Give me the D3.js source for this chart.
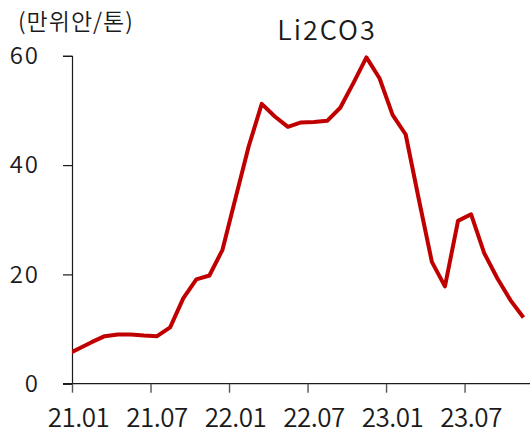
<!DOCTYPE html>
<html>
<head>
<meta charset="utf-8">
<script src="https://cdn.jsdelivr.net/npm/d3@7"></script>
<style>
  html, body { margin: 0; padding: 0; background: #fff; }
  svg { display: block; }
</style>
</head>
<body>
<svg id="chart" width="530" height="434"></svg>
<script>
// Li2CO3 price, monthly (만위안/톤). 20.12 sits left of the axis and is clipped.
const months = ['20.12',
  '21.01','21.02','21.03','21.04','21.05','21.06','21.07','21.08','21.09','21.10','21.11','21.12',
  '22.01','22.02','22.03','22.04','22.05','22.06','22.07','22.08','22.09','22.10','22.11','22.12',
  '23.01','23.02','23.03','23.04','23.05','23.06','23.07','23.08','23.09','23.10','23.11'];
const prices = [5.2,
  6.4, 7.6, 8.7, 9.0, 9.0, 8.8, 8.7, 10.3, 15.6, 19.1, 19.8, 24.5,
  34.0, 43.4, 51.2, 48.9, 47.0, 47.8, 47.9, 48.1, 50.5, 55.0, 59.7, 55.9,
  49.2, 45.6, 33.8, 22.3, 17.8, 29.8, 31.0, 23.9, 19.3, 15.3, 12.1];
const tickLabels = ['21.01', '21.07', '22.01', '22.07', '23.01', '23.07'];
const yTicks = [0, 20, 40, 60];
const title = 'Li2CO3';
const unit = '(만위안/톤)';

const W = 530, H = 434;
const L = 72, R = 530, T = 55.8, B = 383.7;
const FONT = '"Noto Sans CJK KR", "Noto Sans", sans-serif';
const INK = '#1a1a1a', RED = '#c00000';

// month label "yy.mm" -> months since 21.01
const mIdx = s => (+s.slice(0, 2) - 21) * 12 + (+s.slice(3) - 1);

const x = d3.scaleLinear().domain([0, 35]).range([L, R]);
const y = d3.scaleLinear().domain([0, 60]).range([B, T]);

const svg = d3.select('#chart');

svg.append('defs').append('clipPath').attr('id', 'plot')
  .append('rect').attr('x', L).attr('y', 0).attr('width', R - L).attr('height', H);

// y axis
const gy = svg.append('g').attr('transform', `translate(${L},0)`)
  .call(d3.axisLeft(y).tickValues(yTicks).tickSize(9).tickPadding(23).tickFormat(d3.format('d')));
gy.select('.domain').attr('stroke', INK).attr('stroke-width', 1.2);
gy.selectAll('.tick line').attr('stroke', INK).attr('stroke-width', 1.2);
gy.selectAll('.tick text').attr('font-family', FONT).attr('font-size', 24).attr('font-weight', 350)
  .attr('letter-spacing', 2).attr('fill', INK);

// x axis: ticks at month boundaries, labels centred in the month
const gx = svg.append('g').attr('transform', `translate(0,${B})`)
  .call(d3.axisBottom(x).tickValues(tickLabels.map(mIdx)).tickSize(9).tickFormat('').tickSizeOuter(0));
gx.select('.domain').attr('stroke', INK).attr('stroke-width', 1.2).attr('d', `M${L - 9},0H${R}`);
gx.selectAll('.tick line').attr('stroke', '#555').attr('stroke-width', 1.4);
svg.append('g').selectAll('text').data(tickLabels).join('text')
  .attr('x', d => x(mIdx(d) + 0.5)).attr('y', 427)
  .attr('text-anchor', 'middle')
  .attr('font-family', FONT).attr('font-size', 26).attr('font-weight', 350)
  .attr('letter-spacing', -0.5).attr('fill', INK)
  .text(d => d);

// price line
const line = d3.line()
  .x((d, i) => x(mIdx(months[i]) + 0.5))
  .y(d => y(d));
svg.append('path').datum(prices)
  .attr('clip-path', 'url(#plot)')
  .attr('d', line)
  .attr('fill', 'none').attr('stroke', RED).attr('stroke-width', 4)
  .attr('stroke-linejoin', 'round');

// title + unit
svg.append('text').attr('x', 327).attr('y', 40).attr('text-anchor', 'middle')
  .attr('font-family', FONT).attr('font-size', 27).attr('font-weight', 350)
  .attr('letter-spacing', 2).attr('fill', INK).text(title);
svg.append('text').attr('x', 18).attr('y', 30)
  .attr('font-family', FONT).attr('font-size', 23).attr('font-weight', 350)
  .attr('letter-spacing', 1).attr('fill', INK).text(unit);
</script>
</body>
</html>
